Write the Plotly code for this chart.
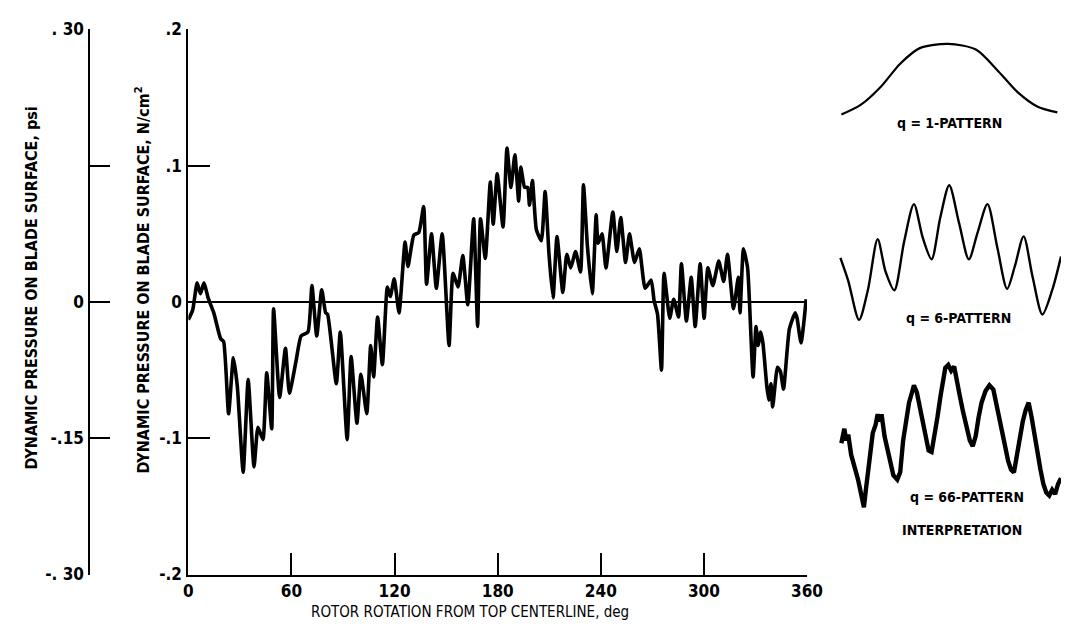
import plotly.graph_objects as go

W, H = 1077, 631

# Measured blade-surface dynamic pressure vs rotor rotation
rotor_deg = [
    0, 2.5, 5.1, 7.0, 9.1, 11.5, 14.8, 18.8, 20.5, 23.4, 26.2, 28.5, 31.9, 34.8,
    38.2, 40.5, 43.4, 45.6, 48.5, 49.6, 53.1, 56.5, 58.8, 62.7, 65.6, 69.6, 71.9,
    74.7, 77.6, 79.9, 81.0, 86.1, 88.4, 92.4, 94.7, 98.1, 100.4, 103.8, 106.1,
    107.8, 110.1, 112.9, 115.8, 117.5, 119.8, 122.6, 126.1, 127.8, 131.2, 134.1,
    136.9, 138.6, 141.5, 144.3, 147.7, 151.7, 154.0, 156.9, 159.7, 162.6, 166.0,
    168.3, 170.0, 172.8, 175.7, 177.4, 179.7, 183.1, 185.4, 187.7, 190.0, 192.2,
    193.4, 195.7, 197.4, 198.5, 200.2, 202.5, 205.4, 207.6, 209.9, 212.2, 214.5,
    217.9, 220.2, 222.5, 225.3, 228.2, 229.9, 232.2, 235.0, 237.3, 238.4, 240.7,
    243.0, 247.0, 249.3, 251.6, 254.4, 256.7, 259.6, 262.4, 265.8, 269.3, 271.0,
    273.0, 275.3, 276.8, 280.1, 282.4, 285.2, 286.9, 289.8, 292.6, 294.9, 297.8,
    300.1, 302.3, 305.2, 308.6, 311.5, 313.7, 317.2, 320.0, 321.0, 323.0, 325.4,
    326.5, 328.6, 330.3, 331.5, 333.0, 334.3, 336.6, 337.7, 339.0, 340.0, 342.8,
    344.5, 346.3, 349.7, 353.1, 354.2, 356.5, 359.5,
]
pressure_ncm2 = [
    -0.013, -0.006, 0.014, 0.006, 0.014, 0.003, -0.008, -0.027, -0.029, -0.082,
    -0.041, -0.062, -0.125, -0.057, -0.121, -0.092, -0.101, -0.052, -0.093, -0.005,
    -0.070, -0.034, -0.067, -0.043, -0.025, -0.022, 0.012, -0.025, 0.009, -0.008,
    -0.009, -0.060, -0.022, -0.101, -0.040, -0.089, -0.053, -0.082, -0.032, -0.055,
    -0.011, -0.046, 0.011, 0.004, 0.017, -0.008, 0.044, 0.026, 0.049, 0.051, 0.070,
    0.013, 0.050, 0.010, 0.050, -0.032, 0.021, 0.011, 0.034, -0.002, 0.061, -0.018,
    0.061, 0.032, 0.088, 0.057, 0.094, 0.055, 0.113, 0.084, 0.108, 0.074, 0.099,
    0.084, 0.084, 0.071, 0.089, 0.053, 0.045, 0.081, 0.034, 0.003, 0.048, 0.007,
    0.035, 0.025, 0.037, 0.022, 0.086, 0.041, 0.006, 0.064, 0.043, 0.050, 0.025,
    0.066, 0.037, 0.062, 0.029, 0.050, 0.029, 0.039, 0.010, 0.016, 0.001, -0.009,
    -0.050, 0.021, -0.012, 0.002, -0.011, 0.028, -0.014, 0.018, -0.018, 0.028,
    -0.012, 0.025, 0.012, 0.030, 0.015, 0.035, -0.005, 0.018, -0.008, 0.039, 0.025,
    0.000, -0.055, -0.018, -0.032, -0.022, -0.030, -0.062, -0.072, -0.060, -0.077,
    -0.048, -0.051, -0.064, -0.020, -0.008, -0.012, -0.030, 0.002,
]

x_ticks = [0, 60, 120, 180, 240, 300, 360]
x_tick_text = ["0", "60", "120", "180", "240", "300", "360"]
ncm2_ticks = [0.2, 0.1, 0, -0.1, -0.2]
ncm2_tick_text = [".2", ".1", "0", "-.1", "-.2"]
psi_ticks = [0.30, 0, -0.15, -0.30]
psi_tick_text = [". 30", "0", "-.15", "-. 30"]
psi_unlabelled_ticks = [0.15]

# Circumferential pattern sketches (angle around annulus, relative amplitude)
q1_deg = [1.6, 33.6, 65.6, 97.6, 129.6, 176, 221, 258, 290, 322, 354]
q1_amp = [0.0, 0.14, 0.39, 0.72, 0.94, 1.0, 0.92, 0.61, 0.31, 0.11, 0.03]

q6_deg = [0, 12.8, 30.4, 44.8, 60.8, 73.6, 88, 104, 120, 134.4, 148.8, 163,
          177.6, 193.6, 209.6, 224, 240, 256, 272, 284.8, 299, 313.6, 329.6,
          345.6, 360]
q6_amp = [0.46, 0.29, 0.0, 0.22, 0.60, 0.36, 0.22, 0.58, 0.86, 0.61, 0.45, 0.76,
          1.0, 0.72, 0.45, 0.65, 0.86, 0.54, 0.23, 0.40, 0.62, 0.32, 0.04, 0.22,
          0.47]

q66_deg = [1.6, 6.4, 9.6, 12.8, 17.6, 22.4, 25.6, 28.8, 32, 35.2, 38.4, 41.6,
           44.8, 49.6, 52.8, 57.6, 60.8, 64, 67.2, 72, 76.8, 81.6, 86.4, 92.8,
           97.6, 102.4, 107.2, 112, 116.8, 120, 124.8, 129.6, 134.4, 139.2, 144,
           148.8, 153.6, 158.4, 163.2, 168, 171.2, 176, 180.8, 185.6, 190.4,
           195.2, 200, 204.8, 211.2, 216, 220.8, 225.6, 230.4, 236.8, 243.2,
           249.6, 254.4, 259.2, 264, 268.8, 273.6, 278.4, 283.2, 288, 292.8,
           297.6, 302.4, 307.2, 312, 316.8, 321.6, 326.4, 331.2, 336, 340.8,
           345.6, 350.4, 355.2, 360]
q66_amp = [0.45, 0.55, 0.47, 0.51, 0.37, 0.31, 0.25, 0.20, 0.13, 0.07, 0.01, 0.13,
           0.25, 0.40, 0.52, 0.58, 0.65, 0.60, 0.65, 0.50, 0.40, 0.30, 0.23, 0.20,
           0.25, 0.47, 0.60, 0.73, 0.80, 0.85, 0.80, 0.70, 0.58, 0.47, 0.40, 0.39,
           0.50, 0.63, 0.77, 0.87, 0.97, 0.99, 0.95, 0.98, 0.89, 0.77, 0.67, 0.57,
           0.47, 0.43, 0.50, 0.63, 0.73, 0.81, 0.85, 0.82, 0.73, 0.63, 0.53, 0.43,
           0.33, 0.27, 0.25, 0.37, 0.50, 0.60, 0.68, 0.73, 0.63, 0.50, 0.38, 0.27,
           0.17, 0.11, 0.09, 0.13, 0.10, 0.17, 0.21]

FONT = "DejaVu Sans Condensed, Liberation Sans Narrow, Arial Narrow, sans-serif"


def xdom(left_px, right_px):
    return [left_px / W, right_px / W]


def ydom(top_px, bottom_px):
    return [1 - bottom_px / H, 1 - top_px / H]


fig = go.Figure()

fig.add_trace(go.Scatter(
    x=rotor_deg, y=pressure_ncm2, mode="lines",
    line=dict(color="black", width=3.6, shape="spline", smoothing=0.5),
    xaxis="x", yaxis="y", hoverinfo="skip", showlegend=False,
))

for deg, amp, ax, width, shape in [
    (q1_deg, q1_amp, "3", 2.2, "spline"),
    (q6_deg, q6_amp, "4", 2.4, "spline"),
    (q66_deg, q66_amp, "5", 4.4, "linear"),
]:
    fig.add_trace(go.Scatter(
        x=deg, y=amp, mode="lines",
        line=dict(color="black", width=width, shape=shape, smoothing=0.8),
        xaxis="x" + ax, yaxis="y" + ax, hoverinfo="skip", showlegend=False,
    ))

# Invisible trace that anchors the psi scale
fig.add_trace(go.Scatter(x=[None], y=[None], xaxis="x", yaxis="y2",
                         showlegend=False, hoverinfo="skip"))

axis_common = dict(showgrid=False, color="black", linecolor="black")
hidden = dict(visible=False, showgrid=False, zeroline=False, fixedrange=True)
tick_font = dict(size=17, family=FONT, weight="bold")

fig.update_layout(
    width=W, height=H, autosize=False,
    margin=dict(l=0, r=0, t=0, b=0),
    paper_bgcolor="white", plot_bgcolor="rgba(0,0,0,0)",
    font=dict(family=FONT, color="black"),
    showlegend=False,
    xaxis=dict(
        domain=xdom(187, 818), range=[0, 360], anchor="y",
        showline=True, linewidth=2, zeroline=False,
        ticks="inside", ticklen=22, tickwidth=2, tickcolor="black",
        tickvals=x_ticks, ticktext=x_tick_text,
        tickfont=tick_font, ticklabelstandoff=0,
        **axis_common,
    ),
    yaxis=dict(
        domain=ydom(20, 583), range=[-0.2, 0.2], anchor="x",
        showline=True, linewidth=2,
        zeroline=True, zerolinecolor="black", zerolinewidth=1.6,
        ticks="inside", ticklen=22, tickwidth=2, tickcolor="black",
        tickvals=ncm2_ticks, ticktext=ncm2_tick_text,
        tickfont=tick_font, ticklabelstandoff=1,
        **axis_common,
    ),
    yaxis2=dict(
        overlaying="y", anchor="free", position=86 / W, side="left",
        range=[-0.30, 0.30],
        showline=True, linewidth=2, zeroline=False,
        ticks="inside", ticklen=20, tickwidth=2, tickcolor="black",
        tickvals=psi_ticks, ticktext=psi_tick_text,
        minor=dict(tickmode="array", tickvals=psi_unlabelled_ticks,
                   ticks="inside", ticklen=20, tickwidth=2, tickcolor="black",
                   showgrid=False),
        tickfont=tick_font, ticklabelstandoff=1,
        **axis_common,
    ),
    xaxis3=dict(domain=xdom(850, 1077), range=[-3.2, 360], anchor="y3", **hidden),
    yaxis3=dict(domain=ydom(25, 115), range=[-0.096, 1.137], anchor="x3", **hidden),
    xaxis4=dict(domain=xdom(850, 1077), range=[-3.2, 360], anchor="y4", **hidden),
    yaxis4=dict(domain=ydom(170, 330), range=[-0.072, 1.079], anchor="x4", **hidden),
    xaxis5=dict(domain=xdom(850, 1077), range=[-3.2, 360], anchor="y5", **hidden),
    yaxis5=dict(domain=ydom(355, 525), range=[-0.067, 1.067], anchor="x5", **hidden),
)


def label(text, x_px, y_px, size=15, angle=0, weight="bold"):
    fig.add_annotation(
        text=text, x=x_px / W, y=1 - y_px / H, xref="paper", yref="paper",
        showarrow=False, textangle=angle, xanchor="center", yanchor="middle",
        font=dict(size=size, family=FONT, color="black", weight=weight),
    )


label("ROTOR ROTATION FROM TOP CENTERLINE, deg", 474, 622, size=15, weight="normal")
label("DYNAMIC PRESSURE ON BLADE SURFACE, psi", 27, 287, size=16, angle=-90)
label("DYNAMIC PRESSURE ON BLADE SURFACE, N/cm<sup>2</sup>", 140, 279, size=16, angle=-90)
label("q = 1-PATTERN", 963, 117, size=14)
label("q = 6-PATTERN", 972, 318, size=14)
label("q = 66-PATTERN", 981, 503, size=14)
label("INTERPRETATION", 976, 537, size=14)

fig.write_html("out.html", config={"displayModeBar": False})
